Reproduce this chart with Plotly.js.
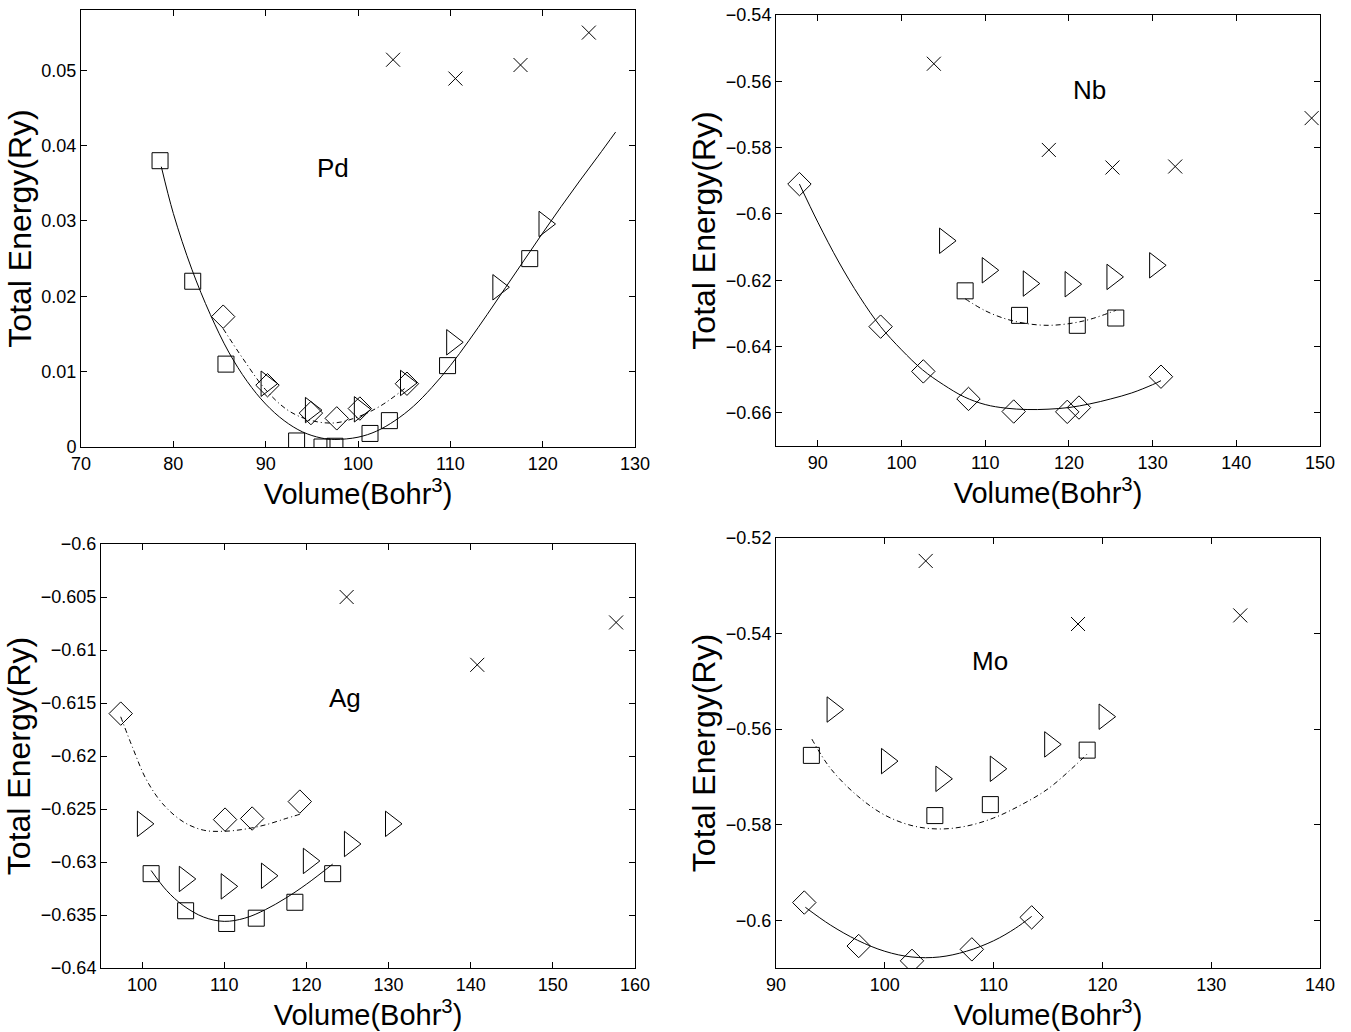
<!DOCTYPE html>
<html><head><meta charset="utf-8">
<script src="https://cdn.plot.ly/plotly-3.0.1.min.js"></script>
<style>html,body{margin:0;padding:0;background:#fff}#chart{width:1351px;height:1032px}</style>
</head><body><div id="chart"></div>
<script>
// ---------- Pd ----------
const pdSquareV = [78.56, 82.1, 85.7, 93.35, 96.1, 97.5, 101.3, 103.4, 109.7, 118.6];
const pdSquareE = [0.038, 0.022, 0.011, 0.0008, 0.0, 0.0001, 0.0018, 0.0035, 0.0108, 0.025];
const pdDiamondV = [85.4, 90.2, 94.9, 97.7, 100.2, 105.3];
const pdDiamondE = [0.0173, 0.0082, 0.0045, 0.0038, 0.0051, 0.0084];
const pdTriangleV = [90.1, 94.9, 100.2, 105.2, 110.2, 115.2, 120.2];
const pdTriangleE = [0.0084, 0.0049, 0.0050, 0.0085, 0.0139, 0.0212, 0.0296];
const pdCrossV = [103.8, 110.55, 117.6, 125.0];
const pdCrossE = [0.0514, 0.0489, 0.0507, 0.055];
const pdSolidV = [78.7, 80, 82, 84, 86, 88, 90, 92, 94, 96, 97.5, 100, 102, 104, 106, 108, 110, 112, 114, 116, 118, 120, 122, 124, 126, 127.9];
const pdSolidE = [0.0372, 0.0310, 0.0236, 0.0176, 0.0126, 0.0087, 0.0057, 0.0035, 0.0020, 0.0012, 0.0010, 0.0013, 0.0021, 0.0035, 0.0054, 0.0079, 0.0108, 0.0141, 0.0176, 0.0212, 0.0248, 0.0284, 0.0319, 0.0353, 0.0386, 0.0418];
const pdDashV = [85.4, 87.5, 90, 92.5, 95, 97.5, 100, 102.5, 105.3];
const pdDashE = [0.0157, 0.0118, 0.0076, 0.0048, 0.0035, 0.0032, 0.0040, 0.0055, 0.0080];

// ---------- Nb ----------
const nbCrossV = [103.86, 117.6, 125.2, 132.7, 149.0];
const nbCrossE = [-0.5547, -0.5807, -0.586, -0.5857, -0.5711];
const nbTriangleV = [105.2, 110.3, 115.2, 120.2, 125.2, 130.3];
const nbTriangleE = [-0.6081, -0.617, -0.621, -0.6212, -0.619, -0.6155];
const nbSquareV = [107.6, 114.1, 121.0, 125.6];
const nbSquareE = [-0.6232, -0.6306, -0.6336, -0.6314];
const nbDiamondV = [87.8, 97.5, 102.6, 108.0, 113.4, 119.8, 121.2, 131.0];
const nbDiamondE = [-0.591, -0.634, -0.6475, -0.6558, -0.6596, -0.6597, -0.6584, -0.6491];
const nbSolidV = [87.8, 90, 92.5, 95, 97.5, 100, 102.5, 105, 107.5, 110, 112.5, 115, 117.5, 120, 122.5, 125, 127.5, 130, 131];
const nbSolidE = [-0.591, -0.6025, -0.6145, -0.625, -0.634, -0.641, -0.647, -0.6515, -0.6552, -0.6575, -0.6586, -0.6590, -0.6589, -0.6584, -0.6573, -0.6558, -0.654, -0.6515, -0.6503];
const nbDashV = [107.6, 110, 112.5, 115, 117.5, 120, 122.5, 125.6];
const nbDashE = [-0.6256, -0.6292, -0.6317, -0.6331, -0.6336, -0.6331, -0.6318, -0.6291];

// ---------- Ag ----------
const agCrossV = [124.9, 140.8, 157.7];
const agCrossE = [-0.605, -0.6114, -0.6074];
const agDiamondV = [97.4, 110.1, 113.4, 119.2];
const agDiamondE = [-0.616, -0.626, -0.6259, -0.6243];
const agTriangleV = [100.1, 105.2, 110.3, 115.2, 120.3, 125.3, 130.3];
const agTriangleE = [-0.6264, -0.6316, -0.6323, -0.6313, -0.6299, -0.6283, -0.6264];
const agSquareV = [101.1, 105.3, 110.3, 113.9, 118.6, 123.2];
const agSquareE = [-0.6311, -0.6346, -0.6358, -0.6353, -0.6338, -0.6311];
const agSolidV = [101.1, 103, 105, 107.5, 110, 112.5, 115, 117.5, 120, 123.2];
const agSolidE = [-0.6308, -0.6327, -0.6341, -0.6352, -0.6356, -0.6353, -0.6345, -0.6334, -0.6321, -0.6302];
const agDashV = [97.4, 99, 100.5, 102.5, 105, 107.5, 110, 112.5, 115, 117.5, 119.2];
const agDashE = [-0.6163, -0.6195, -0.6222, -0.6245, -0.6262, -0.6270, -0.6271, -0.6269, -0.6265, -0.6259, -0.6255];

// ---------- Mo ----------
const moCrossV = [103.76, 117.76, 132.67];
const moCrossE = [-0.5248, -0.538, -0.5362];
const moTriangleV = [95.2, 100.2, 105.2, 110.2, 115.2, 120.2];
const moTriangleE = [-0.5559, -0.5667, -0.5704, -0.5683, -0.5632, -0.5574];
const moSquareV = [93.25, 104.6, 109.7, 118.6];
const moSquareE = [-0.5655, -0.5781, -0.5758, -0.5644];
const moDiamondV = [92.6, 97.6, 102.5, 108.0, 113.5];
const moDiamondE = [-0.5963, -0.6054, -0.6085, -0.6061, -0.5994];
const moSolidV = [92.7, 95, 97.5, 100, 102.5, 105, 107.5, 110, 112, 113.5];
const moSolidE = [-0.5973, -0.6010, -0.6042, -0.6065, -0.6077, -0.6077, -0.6065, -0.6043, -0.6017, -0.5992];
const moDashV = [93.3, 95, 97.5, 100, 102.5, 105, 107.5, 110, 112.5, 115, 117.5, 118.6];
const moDashE = [-0.5621, -0.5682, -0.5740, -0.5780, -0.5802, -0.5809, -0.5803, -0.5786, -0.5759, -0.5725, -0.5676, -0.5652];

// ---------- tick labels ----------
const pdXTicks = [70, 80, 90, 100, 110, 120, 130];
const pdYTicks = [0, 0.01, 0.02, 0.03, 0.04, 0.05];
const pdYText = ['0', '0.01', '0.02', '0.03', '0.04', '0.05'];
const nbXTicks = [90, 100, 110, 120, 130, 140, 150];
const nbYTicks = [-0.54, -0.56, -0.58, -0.6, -0.62, -0.64, -0.66];
const nbYText = ['\u22120.54', '\u22120.56', '\u22120.58', '\u22120.6', '\u22120.62', '\u22120.64', '\u22120.66'];
const agXTicks = [100, 110, 120, 130, 140, 150, 160];
const agYTicks = [-0.6, -0.605, -0.61, -0.615, -0.62, -0.625, -0.63, -0.635, -0.64];
const agYText = ['\u22120.6', '\u22120.605', '\u22120.61', '\u22120.615', '\u22120.62', '\u22120.625', '\u22120.63', '\u22120.635', '\u22120.64'];
const moXTicks = [90, 100, 110, 120, 130, 140];
const moYTicks = [-0.52, -0.54, -0.56, -0.58, -0.6];
const moYText = ['\u22120.52', '\u22120.54', '\u22120.56', '\u22120.58', '\u22120.6'];

const elements = ['Pd', 'Nb', 'Ag', 'Mo'];
const labelV = [97.3, 122.5, 124.7, 109.7];
const labelE = [0.037, -0.5625, -0.6145, -0.5457];

const FONT = '"Liberation Sans", Arial, Helvetica, sans-serif';
const DASH = '5px,3px,1px,3px';

function markers(x, y, symbol, size, ax) {
  return {x: x, y: y, mode: 'markers', type: 'scatter', xaxis: 'x' + ax, yaxis: 'y' + ax,
    marker: {symbol: symbol, size: size, color: '#000', line: {color: '#000', width: 1}},
    hoverinfo: 'x+y', showlegend: false};
}
function curve(x, y, dash, ax) {
  return {x: x, y: y, mode: 'lines', type: 'scatter', xaxis: 'x' + ax, yaxis: 'y' + ax,
    line: {color: '#000', width: 1, dash: dash, shape: 'spline', smoothing: 1},
    hoverinfo: 'skip', showlegend: false};
}
const SQ = 'square-open', DI = 'diamond-open', TR = 'triangle-right-open', CR = 'x-thin-open';
const SQS = 16, DIS = 18, TRS = 22, CRS = 14;

const traces = [
  curve(pdSolidV, pdSolidE, 'solid', ''), curve(pdDashV, pdDashE, DASH, ''),
  markers(pdSquareV, pdSquareE, SQ, SQS, ''), markers(pdDiamondV, pdDiamondE, DI, DIS, ''),
  markers(pdTriangleV, pdTriangleE, TR, TRS, ''), markers(pdCrossV, pdCrossE, CR, CRS, ''),

  curve(nbSolidV, nbSolidE, 'solid', '2'), curve(nbDashV, nbDashE, DASH, '2'),
  markers(nbSquareV, nbSquareE, SQ, SQS, '2'), markers(nbDiamondV, nbDiamondE, DI, DIS, '2'),
  markers(nbTriangleV, nbTriangleE, TR, TRS, '2'), markers(nbCrossV, nbCrossE, CR, CRS, '2'),

  curve(agSolidV, agSolidE, 'solid', '3'), curve(agDashV, agDashE, DASH, '3'),
  markers(agSquareV, agSquareE, SQ, SQS, '3'), markers(agDiamondV, agDiamondE, DI, DIS, '3'),
  markers(agTriangleV, agTriangleE, TR, TRS, '3'), markers(agCrossV, agCrossE, CR, CRS, '3'),

  curve(moSolidV, moSolidE, 'solid', '4'), curve(moDashV, moDashE, DASH, '4'),
  markers(moSquareV, moSquareE, SQ, SQS, '4'), markers(moDiamondV, moDiamondE, DI, DIS, '4'),
  markers(moTriangleV, moTriangleE, TR, TRS, '4'), markers(moCrossV, moCrossE, CR, CRS, '4')
];

const W = 1351, H = 1032;
function xax(px0, px1, range, ticks, anchor) {
  return {domain: [px0 / W, px1 / W], range: range, tickvals: ticks, ticktext: ticks.map(String),
    anchor: anchor, showline: true, linecolor: '#000', linewidth: 1, mirror: 'ticks',
    ticks: 'inside', ticklen: 6, tickcolor: '#000', showgrid: false, zeroline: false,
    tickfont: {family: FONT, size: 18, color: '#000'},
    title: {text: 'Volume(Bohr<sup>3</sup>)', font: {family: FONT, size: 29, color: '#000'}, standoff: 5}};
}
function yax(py0, py1, range, ticks, text, anchor, standoff) {
  return {domain: [1 - py1 / H, 1 - py0 / H], range: range, tickvals: ticks, ticktext: text,
    anchor: anchor, showline: true, linecolor: '#000', linewidth: 1, mirror: 'ticks',
    ticks: 'inside', ticklen: 6, tickcolor: '#000', showgrid: false, zeroline: false,
    tickfont: {family: FONT, size: 18, color: '#000'},
    title: {text: 'Total Energy(Ry)', font: {family: FONT, size: 32, color: '#000'}, standoff: standoff}};
}

const axRefs = [['x', 'y'], ['x2', 'y2'], ['x3', 'y3'], ['x4', 'y4']];
const annotations = elements.map((t, i) => ({
  text: t, x: labelV[i], y: labelE[i], xref: axRefs[i][0], yref: axRefs[i][1],
  showarrow: false, font: {family: FONT, size: 26, color: '#000'}
}));

const layout = {
  width: W, height: H, margin: {l: 0, r: 0, t: 0, b: 0},
  paper_bgcolor: '#fff', plot_bgcolor: '#fff', showlegend: false,
  font: {family: FONT, color: '#000'},
  xaxis: xax(81, 635, [70, 130], pdXTicks, 'y'),
  yaxis: yax(10, 447, [0, 0.058], pdYTicks, pdYText, 'x', 0),
  xaxis2: xax(776, 1320, [85, 150], nbXTicks, 'y2'),
  yaxis2: yax(15, 446, [-0.67, -0.54], nbYTicks, nbYText, 'x2', 0),
  xaxis3: xax(101, 635, [95, 160], agXTicks, 'y3'),
  yaxis3: yax(544, 968, [-0.64, -0.6], agYTicks, agYText, 'x3', 0),
  xaxis4: xax(776, 1320, [90, 140], moXTicks, 'y4'),
  yaxis4: yax(538, 968, [-0.61, -0.52], moYTicks, moYText, 'x4', 0),
  annotations: annotations
};

Plotly.newPlot('chart', traces, layout, {displayModeBar: false, staticPlot: true});
</script>
</body></html>
